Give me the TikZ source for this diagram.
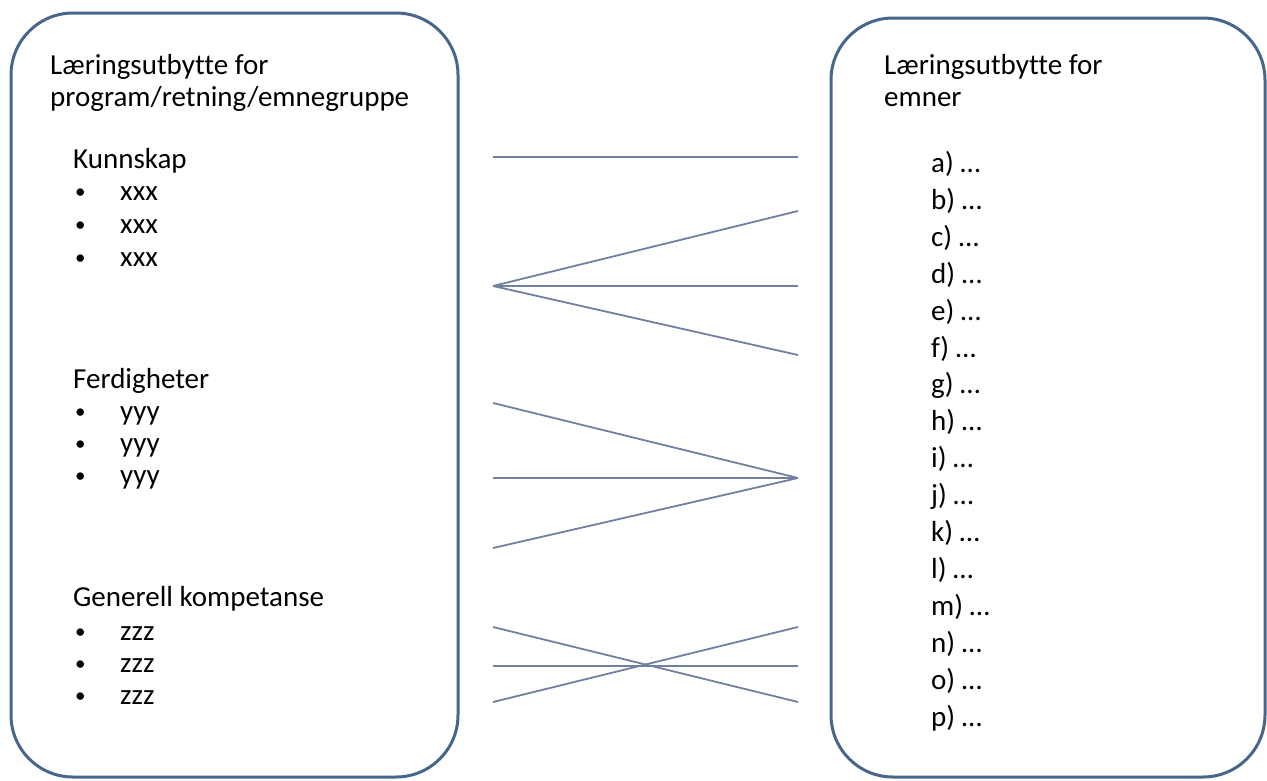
\documentclass[tikz,border=0pt]{standalone}
\usepackage{fontspec}
\setmainfont[Ligatures=NoCommon]{Carlito}
\begin{document}
\begin{tikzpicture}[x=1pt,y=-1pt,
  box/.style={draw=boxblue, line width=3pt, rounded corners=62pt, inner sep=0pt},
  txt/.style={anchor=west, inner sep=0pt, text height=0.7em, text depth=0.2em,
    yshift=-6pt, font=\fontsize{29}{32}\selectfont},
  dot/.style={txt, font=\fontsize{21}{24}\selectfont},
  link/.style={draw=linkblue, line width=1.8pt}]
\definecolor{boxblue}{RGB}{72,101,140}
\definecolor{linkblue}{RGB}{112,129,160}
\useasboundingbox (0,0) rectangle (1267,780);

% the two outcome boxes
\node[box, minimum width=447pt, minimum height=764pt] (prog) at (234.5,395) {};
\node[box, minimum width=434pt, minimum height=759pt] (emne) at (1048,397.5) {};

% left box: programme level outcomes
\node[txt] (ph1) at (50,66) {Læringsutbytte for};
\node[txt] (ph2) at (50,98) {program/retning/emnegruppe};

\node[txt] (kun) at (73,160) {Kunnskap};
\foreach \y/\n in {192/1,225/2,258/3}{
  \node[dot] (kb\n) at (75,\y-2) {•};
  \node[txt] (kx\n) at (120,\y) {xxx};
}
\node[txt] (fer) at (73,380) {Ferdigheter};
\foreach \y/\n in {412/1,444/2,476/3}{
  \node[dot] (fb\n) at (75,\y-2) {•};
  \node[txt] (fy\n) at (120,\y) {yyy};
}
\node[txt] (gen) at (73,598) {Generell kompetanse};
\foreach \y/\n in {632/1,664/2,696/3}{
  \node[dot] (gb\n) at (75,\y-2) {•};
  \node[txt] (gz\n) at (120,\y) {zzz};
}

% right box: course level outcomes
\node[txt] (eh1) at (884,66) {Læringsutbytte for};
\node[txt] (eh2) at (884,98) {emner};
\foreach \l [count=\i from 0] in {a,b,c,d,e,f,g,h,i,j,k,l,m,n,o,p}{
  \node[txt] (item\l) at (931,{164+36.9*\i}) {\l) …};
}

% connector end points
\coordinate (l1) at (493,157);
\coordinate (l2) at (493,286);
\coordinate (l3) at (493,403);
\coordinate (l4) at (493,478);
\coordinate (l5) at (493,548);
\coordinate (l6) at (493,627);
\coordinate (l7) at (493,666);
\coordinate (l8) at (493,702);
\coordinate (r1) at (798,157);
\coordinate (r2) at (798,211);
\coordinate (r3) at (798,286);
\coordinate (r4) at (798,355);
\coordinate (r5) at (798,478);
\coordinate (r6) at (798,627);
\coordinate (r7) at (798,666);
\coordinate (r8) at (798,702);

% mappings between the two levels
\draw[link] (l1) -- (r1);
\draw[link] (l2) -- (r2);
\draw[link] (l2) -- (r3);
\draw[link] (l2) -- (r4);
\draw[link] (l3) -- (r5);
\draw[link] (l4) -- (r5);
\draw[link] (l5) -- (r5);
\draw[link] (l6) -- (r8);
\draw[link] (l7) -- (r7);
\draw[link] (l8) -- (r6);
\end{tikzpicture}
\end{document}
